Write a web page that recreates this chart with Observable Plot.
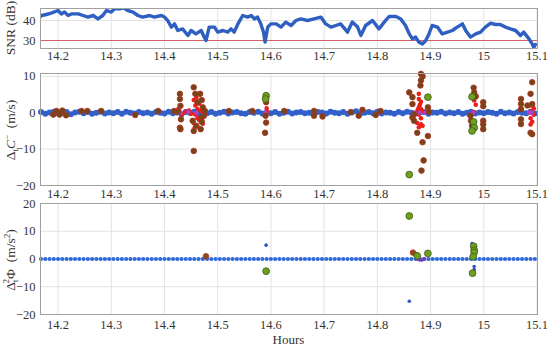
<!DOCTYPE html>
<html><head><meta charset="utf-8">
<script src="https://cdn.jsdelivr.net/npm/d3@7"></script>
<script src="https://cdn.jsdelivr.net/npm/@observablehq/plot@0.6"></script>
<style>
body{margin:0;background:#fff;}
#wrap{position:relative;width:550px;height:348px;font-family:"Liberation Serif",serif;background:#fff;}
#wrap svg{position:absolute;left:0;overflow:visible;}
#wrap svg text{font-family:"Liberation Serif",serif !important;}
</style></head><body><div id="wrap"></div>
<script>
// ---------- DATA ----------
const xTicks = [14.2,14.3,14.4,14.5,14.6,14.7,14.8,14.9,15.0,15.1];

const snrTime = [14.167,14.169,14.178,14.187,14.200,14.206,14.212,14.219,14.225,14.238,14.247,14.256,14.266,14.275,14.284,14.291,14.300,14.306,14.316,14.323,14.331,14.341,14.350,14.359,14.372,14.381,14.394,14.400,14.406,14.413,14.419,14.425,14.434,14.444,14.450,14.459,14.469,14.475,14.478,14.484,14.494,14.500,14.510,14.519,14.525,14.531,14.538,14.547,14.556,14.563,14.569,14.575,14.581,14.586,14.589,14.594,14.600,14.610,14.619,14.628,14.638,14.647,14.656,14.669,14.681,14.694,14.703,14.713,14.722,14.731,14.744,14.753,14.763,14.769,14.778,14.791,14.803,14.813,14.822,14.835,14.844,14.853,14.860,14.866,14.872,14.878,14.885,14.891,14.897,14.903,14.913,14.922,14.932,14.941,14.950,14.960,14.966,14.975,14.985,14.994,15.003,15.013,15.022,15.031,15.041,15.050,15.060,15.069,15.075,15.085,15.091,15.094,15.097];
const snrValue = [42,42.5,43,43.7,45,43.3,44.2,42.5,43.3,43.3,42.5,41.7,42.5,40.8,42.5,45,44.2,45.8,45.8,46.3,45,44.2,42.5,41.7,42.5,41.7,42.5,41.7,40,36.7,38.3,35,35.8,32.5,35,33.3,35,31.5,30,36.7,36.7,34.2,35,34.2,35.8,34.2,38.3,42.5,41.7,42.5,40.8,41.7,38.3,34.2,29.2,36.7,38.3,38.3,36.7,39.2,37.5,40,40.8,40,40.8,41.7,38.3,36.7,37.5,38.3,34.2,39.2,36.7,32.5,37.5,40,35.8,39.2,42,42,40.8,37.5,33.3,30.8,31.7,29.2,28.3,30,33.3,37.5,36.7,33.3,34.2,35,36.7,38.3,35,31.7,33.3,34.2,36.7,38.7,38,38,36.7,35.8,35,32.5,34.2,30.8,28.3,26.5,28];

const epochs = [14.168,14.176,14.184,14.192,14.200,14.208,14.216,14.224,14.232,14.240,
14.248,14.256,14.264,14.272,14.280,14.288,14.296,14.304,14.312,14.320,
14.328,14.336,14.344,14.352,14.360,14.368,14.376,14.384,14.392,14.400,
14.408,14.416,14.424,14.432,14.440,14.448,14.456,14.464,14.472,14.480,
14.488,14.496,14.504,14.512,14.520,14.528,14.536,14.544,14.552,14.560,
14.568,14.576,14.584,14.592,14.600,14.608,14.616,14.624,14.632,14.640,
14.648,14.656,14.664,14.672,14.680,14.688,14.696,14.704,14.712,14.720,
14.728,14.736,14.744,14.752,14.760,14.768,14.776,14.784,14.792,14.800,
14.808,14.816,14.824,14.832,14.840,14.848,14.856,14.864,14.872,14.880,
14.888,14.896,14.904,14.912,14.920,14.928,14.936,14.944,14.952,14.960,
14.968,14.976,14.984,14.992,15.000,15.008,15.016,15.024,15.032,15.040,
15.048,15.056,15.064,15.072,15.080,15.088,15.096];

const codeBlue = [0.2,-0.3,0.1,0.3,-0.2,0.0,0.2,-0.4,0.1,0.3,
-0.1,0.2,-0.3,0.0,0.3,-0.2,0.1,-0.1,0.2,-0.3,
0.3,0.0,-0.2,0.2,-0.1,0.1,-0.3,0.2,0.0,-0.2,
0.3,-0.1,0.1,-0.4,0.2,0.0,0.3,-0.2,0.1,-0.1,
0.2,-0.3,0.0,0.3,-0.2,0.1,0.2,-0.1,-0.3,0.2,
0.0,0.3,-0.2,0.1,-0.1,0.2,-0.3,0.0,0.3,-0.2,
0.1,0.2,-0.1,0.0,-0.3,0.2,0.1,-0.2,0.3,0.0,
-0.1,0.2,-0.3,0.1,0.4,-0.2,0.0,0.2,-0.1,0.3,
-0.2,0.1,0.0,-0.3,0.2,-0.1,0.3,0.0,-0.2,0.1,
0.2,-0.3,0.1,0.0,0.3,-0.2,0.1,-0.1,0.2,-0.3,
0.0,0.3,-0.2,0.1,-0.1,0.2,0.0,-0.3,0.3,-0.1,
0.1,-0.2,0.2,0.0,-0.1,0.3,-0.2];

const phaseBlue = [0,0,0,0,0,0,0,0,0,0, 0,0,0,0,0,0,0,0,0,0, 0,0,0,0,0,0,0,0,0,0,
0,0,0,0,0,0,0,0,0,0, 0,0,0,0,0,0,0,0,0,0, 0,0,0,0,0,0,0,0,0,0,
0,0,0,0,0,0,0,0,0,0, 0,0,0,0,0,0,0,0,0,0, 0,0,0,0,0,0,0,0,0,0,
0,0,0,0,0,0,0,0,0,0, 0,0,0,0,0,0,0,0,0,0, 0,0,0,0,0,0,0];

// middle panel flagged points [hours, m/s]
const codeBrown = [[14.191,-0.5],[14.197,0.5],[14.203,-0.5],[14.208,0.6],[14.215,-0.7],[14.244,0.5],[14.255,0.5],[14.281,0.5],[14.345,-0.6],[14.388,0.5],[14.418,0.5],
[14.429,5.2],[14.429,3.8],[14.430,1.9],[14.431,-1.8],[14.429,-4.1],[14.430,-4.5],[14.425,0.3],
[14.455,7.0],[14.458,5.2],[14.467,5.2],[14.462,2.9],[14.470,-1.3],[14.453,-2.2],[14.460,-3.6],[14.455,-5.0],[14.468,-4.5],[14.455,-10.5],[14.470,3.5],[14.472,1.5],[14.474,-0.8],[14.470,-2.5],[14.476,0.5],
[14.521,0.5],[14.565,0.5],[14.591,2.9],[14.590,-0.8],[14.591,-2.7],[14.589,-5.5],
[14.625,0.5],[14.681,0.5],[14.681,-0.8],[14.697,-1.0],[14.750,0.2],[14.765,-0.8],[14.772,0.8],[14.797,-0.6],[14.806,0.5],
[14.860,5.6],[14.866,4.3],[14.866,2.4],[14.869,-0.4],[14.866,-1.3],[14.869,-2.2],[14.875,-5.5],[14.882,10.7],[14.885,10.0],[14.882,8.9],[14.881,7.5],[14.885,-8.1],[14.895,-6.4],[14.895,1.5],[14.897,0.3],[14.887,-13.1],[14.883,-15.9],
[14.981,6.9],[14.982,5.6],[14.985,4.5],[14.999,2.9],[14.999,1.8],[14.975,-0.8],[14.976,-2.2],[14.978,-3.6],[14.999,-2.2],[14.999,-3.2],[14.999,-4.5],
[15.091,8.4],[15.088,5.2],[15.070,3.8],[15.091,2.4],[15.070,2.4],[15.070,1.0],[15.082,2.0],[15.070,-1.8],[15.070,-3.1],[15.088,-5.5],[15.091,-5.9]];
const codeRed = [[14.428,0.5],[14.433,-0.4],[14.426,1.0],
[14.455,3.5],[14.458,2.0],[14.462,1.0],[14.458,-0.5],[14.462,-1.5],[14.455,-2.8],[14.465,-2.0],[14.468,0.5],[14.460,4.2],[14.465,2.5],[14.457,-4.0],[14.472,-3.0],[14.446,0.6],[14.440,0.3],[14.450,-0.3],
[14.592,1.2],[14.593,0.3],
[14.878,5.2],[14.878,3.8],[14.882,3.0],[14.878,1.5],[14.882,1.0],[14.885,0.5],[14.878,-0.5],[14.882,-1.5],[14.875,-2.8],[14.882,-3.2],[14.878,-4.0],[14.885,-3.6],[14.880,2.2],[14.876,0.8],
[14.982,0.2],[14.985,2.2],[14.982,3.4],
[15.088,2.0],[15.091,0.5],[15.094,-0.5],[15.088,-1.5],[15.091,-2.5],[15.088,-3.2],[15.094,1.2]];
const codeGreen = [[14.591,4.7],[14.590,3.8],[14.895,4.3],[14.860,-17.0],[14.978,4.4],[14.981,-2.5],[14.982,-4.1],[14.978,-5.0]];
const codePurple = [[14.430,0],[14.445,0.2],[14.460,0],[14.475,0.1],[14.590,0.1],[14.870,0],[14.880,0],[14.890,0.1],[14.980,0],[15.085,0],[15.090,0.1]];

// bottom panel flagged points [hours, m/s^2]
const phaseBlueOut = [[14.860,-15.2],[14.591,5.0],[14.978,5.6],[14.982,-2.7],[14.982,-3.8]];
const phasePurple = [[14.876,0],[14.880,-0.3],[14.884,-0.3],[14.888,0]];
const phaseBrown = [[14.867,2.3],[14.874,1.4],[14.478,1.0]];
const phaseGreen = [[14.860,15.5],[14.591,-4.4],[14.895,2.0],[14.875,1.1],[14.981,4.6],[14.982,3.2],[14.982,2.4],[14.980,0.8],[14.979,-5.1]];

// ---------- DRAW ----------
const W = 550, ML = 40, MR = 13;
const xDomain = [14.167, 15.101];
const fmtX = d => String(+d.toFixed(1));
const snr = snrTime.map((t, i) => ({t, v: snrValue[i]}));
const codeB = epochs.map((t, i) => ({t, v: codeBlue[i]}));
const phaseB = epochs.map((t, i) => ({t, v: phaseBlue[i]}));
const pts = a => a.map(([t, v]) => ({t, v}));

const gridC = "#e3e3e3", frameC = "#a0a0a0", txtC = "#333";
const FONT = "Liberation Serif";
const baseStyle = {background: "transparent", fontFamily: FONT, fontSize: "12px", color: txtC, overflow: "visible"};
const wrap = document.getElementById("wrap");
const ax = {tickSize: 0, label: null, fontFamily: FONT, fontSize: 12.5};

function place(svg, top) { svg.style.top = top + "px"; wrap.appendChild(svg); return svg; }

const p1 = Plot.plot({
  width: W, height: 66, marginLeft: ML, marginRight: MR, marginTop: 8, marginBottom: 18,
  style: baseStyle,
  x: {domain: xDomain, label: null}, y: {domain: [26, 46], label: null},
  marks: [
    Plot.gridX(xTicks, {stroke: gridC, strokeOpacity: 1}),
    Plot.gridY([40], {stroke: gridC, strokeOpacity: 1}),
    Plot.ruleY([30], {stroke: "#d8606a", strokeWidth: 1}),
    Plot.line(snr, {x: "t", y: "v", stroke: "#2f5fc0", strokeWidth: 3.4, clip: true}),
    Plot.frame({stroke: frameC}),
    Plot.axisX(xTicks, {...ax, tickPadding: 3, tickFormat: fmtX}),
    Plot.axisY([30, 40], {...ax, tickPadding: 5})
  ]
});
place(p1, 0);

const p2 = Plot.plot({
  width: W, height: 142, marginLeft: ML, marginRight: MR, marginTop: 13, marginBottom: 17,
  style: baseStyle,
  x: {domain: xDomain, label: null}, y: {domain: [-20, 10.8], label: null},
  marks: [
    Plot.gridX(xTicks, {stroke: gridC, strokeOpacity: 1}),
    Plot.gridY([-20, -10, 0, 10], {stroke: gridC, strokeOpacity: 1}),
    Plot.dot(codeB, {x: "t", y: "v", r: 3, fill: "#3060c8", stroke: "none"}),
    Plot.dot(pts(codeRed), {x: "t", y: "v", r: 2.3, fill: "#e8201c", stroke: "none"}),
    Plot.dot(pts(codePurple), {x: "t", y: "v", r: 2.2, fill: "#b040c8", stroke: "none"}),
    Plot.dot(pts(codeBrown), {x: "t", y: "v", r: 2.8, fill: "#74461a", stroke: "#b3301c", strokeWidth: 0.8}),
    Plot.dot(pts(codeGreen), {x: "t", y: "v", r: 3.4, fill: "#6ea020", stroke: "#3f5a16", strokeWidth: 0.8}),
    Plot.frame({stroke: frameC}),
    Plot.axisX(xTicks, {...ax, tickPadding: 4, tickFormat: fmtX}),
    Plot.axisY([-20, -10, 0, 10], {...ax, tickPadding: 5})
  ]
});
place(p2, 60);

const p3 = Plot.plot({
  width: W, height: 158, marginLeft: ML, marginRight: MR, marginTop: 13, marginBottom: 34,
  style: baseStyle,
  x: {domain: xDomain, label: null}, y: {domain: [-20, 20], label: null},
  marks: [
    Plot.gridX(xTicks, {stroke: gridC, strokeOpacity: 1}),
    Plot.gridY([-20, -10, 0, 10, 20], {stroke: gridC, strokeOpacity: 1}),
    Plot.dot(phaseB, {x: "t", y: "v", r: 2.1, fill: "#2f6ad8", stroke: "none"}),
    Plot.dot(pts(phaseBlueOut), {x: "t", y: "v", r: 1.8, fill: "#2f55c8", stroke: "none"}),
    Plot.dot(pts(phasePurple), {x: "t", y: "v", r: 2, fill: "#7040c0", stroke: "none"}),
    Plot.dot(pts(phaseBrown), {x: "t", y: "v", r: 2.8, fill: "#8a4a1a", stroke: "#c03020", strokeWidth: 0.8}),
    Plot.dot(pts(phaseGreen), {x: "t", y: "v", r: 3.4, fill: "#6ea020", stroke: "#3f5a16", strokeWidth: 0.8}),
    Plot.frame({stroke: frameC}),
    Plot.axisX(xTicks, {...ax, tickPadding: 6, tickFormat: fmtX}),
    Plot.axisY([-20, -10, 0, 10, 20], {...ax, tickPadding: 5})
  ]
});
place(p3, 190);

// axis titles (real text)
function ytitle(svg, cy, build) {
  const t = d3.select(svg).append("text")
    .attr("transform", `translate(15,${cy}) rotate(-90)`)
    .attr("text-anchor", "middle")
    .attr("fill", txtC)
    .style("font-family", FONT)
    .style("font-size", "13.5px");
  build(t);
}
ytitle(p1, 28, t => t.text("SNR (dB)"));
ytitle(p2, 70, t => {
  t.append("tspan").text("Δ");
  t.append("tspan").attr("dy", 3).style("font-size", "9px").text("t");
  t.append("tspan").attr("dy", -3).style("font-style", "italic").text("C");
  t.append("tspan").attr("dy", -5).style("font-size", "9px").text("−");
  t.append("tspan").attr("dy", 5).text("  (m/s)");
});
ytitle(p3, 70, t => {
  t.append("tspan").text("Δ");
  t.append("tspan").attr("dy", 3).style("font-size", "9px").text("t");
  t.append("tspan").attr("dx", -4).attr("dy", -9).style("font-size", "9px").text("2");
  t.append("tspan").attr("dy", 6).text("Φ  (m/s");
  t.append("tspan").attr("dy", -5).style("font-size", "9px").text("2");
  t.append("tspan").attr("dy", 5).text(")");
});
d3.select(p3).append("text")
  .attr("x", ML + (W - ML - MR) / 2).attr("y", 154)
  .attr("text-anchor", "middle").attr("fill", txtC)
  .style("font-family", FONT).style("font-size", "13px")
  .text("Hours");

// force serif on every tick label group
d3.selectAll("#wrap svg, #wrap svg g, #wrap svg text")
  .attr("font-family", FONT).style("font-family", FONT);
</script>
</body></html>
